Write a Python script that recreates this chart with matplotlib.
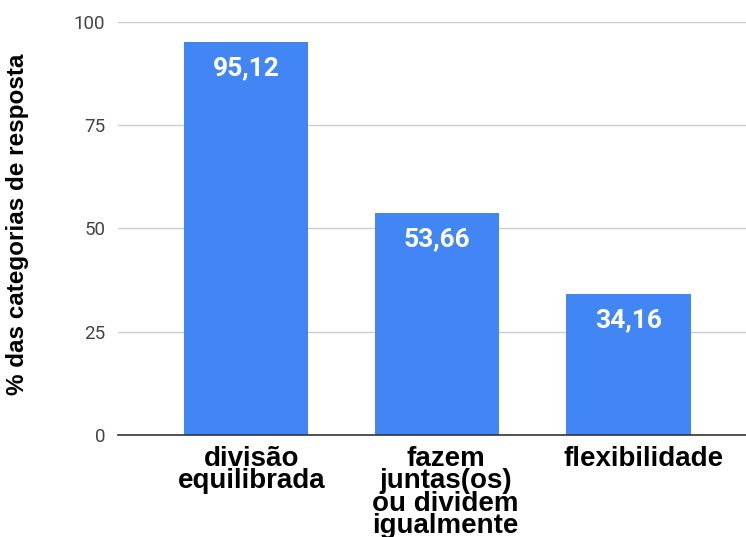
import matplotlib.pyplot as plt
import numpy as np

categorias = ['divisão\nequilibrada', 'fazem\njuntas(os)\nou dividem\nigualmente', 'flexibilidade']
valores = [95.12, 53.66, 34.16]
rotulos = ['95,12', '53,66', '34,16']
y_ticks = [0, 25, 50, 75, 100]

fig = plt.figure(figsize=(7.46, 5.37), dpi=100)
ax = fig.add_axes([0.158, 0.19, 0.842, 0.769])

x = np.arange(len(categorias))
bars = ax.bar(x, valores, width=0.65, color='#4285F4', zorder=3)

for bar, txt in zip(bars, rotulos):
    ax.annotate(txt, (bar.get_x() + bar.get_width() / 2, bar.get_height()),
                xytext=(0, -10), textcoords='offset points', ha='center', va='top',
                color='white', fontsize=19, fontweight='bold', family='Roboto')

ax.set_xlim(-0.67, 2.615)
ax.set_ylim(0, 100)
ax.set_yticks(y_ticks)
ax.set_yticklabels([str(t) for t in y_ticks], family='Roboto', fontsize=13.5, color='#444444')
ax.set_xticks(x)
ax.set_xticklabels([])
# category labels: in the original they sit a bit right of the bar centres
for xi, cat, dx in zip(x, categorias, [4, 6, 11]):
    ax.annotate(cat, (xi, 0), xycoords=('data', 'axes fraction'),
                xytext=(dx, -8), textcoords='offset points', ha='center', va='top',
                fontsize=20, fontweight='bold', family='Liberation Sans', linespacing=0.82)
ax.tick_params(axis='x', length=0)
ax.tick_params(axis='y', length=0, pad=9)
ax.grid(axis='y', color='#cccccc', linewidth=1, zorder=0)
for s in ['top', 'right', 'left']:
    ax.spines[s].set_visible(False)
ax.spines['bottom'].set_color('#333333')
ax.spines['bottom'].set_linewidth(1.2)
ax.spines['bottom'].set_zorder(4)

ax.set_ylabel('% das categorias de resposta', fontsize=17.5, fontweight='bold',
              family='Liberation Sans')
ax.yaxis.set_label_coords(-0.142, 0.51)

fig.savefig('out.png', dpi=100)
